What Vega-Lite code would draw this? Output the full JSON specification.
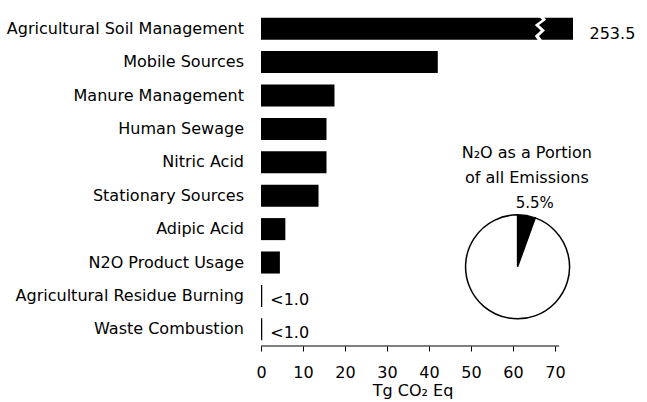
{
  "$schema": "https://vega.github.io/schema/vega-lite/v6.json",
  "width": 312,
  "height": 334,
  "autosize": {"type": "none"},
  "padding": {"left": 261, "top": 12, "right": 74, "bottom": 56},
  "background": "white",
  "config": {"view": {"stroke": null}, "font": "DejaVu Sans"},
  "datasets": {
    "bars": [
      {"source": "Agricultural Soil Management", "value": 253.5, "label": "253.5"},
      {"source": "Mobile Sources", "value": 42.1, "label": ""},
      {"source": "Manure Management", "value": 17.5, "label": ""},
      {"source": "Human Sewage", "value": 15.6, "label": ""},
      {"source": "Nitric Acid", "value": 15.6, "label": ""},
      {"source": "Stationary Sources", "value": 13.7, "label": ""},
      {"source": "Adipic Acid", "value": 5.8, "label": ""},
      {"source": "N2O Product Usage", "value": 4.5, "label": ""},
      {"source": "Agricultural Residue Burning", "value": 0.3, "label": "<1.0"},
      {"source": "Waste Combustion", "value": 0.3, "label": "<1.0"}
    ],
    "pie": [
      {"part": "N2O", "share": 5.5, "ord": 1, "label": "5.5%"},
      {"part": "Other gases", "share": 94.5, "ord": 2, "label": ""}
    ]
  },
  "layer": [
    {
      "data": {"name": "bars"},
      "layer": [
        {
          "mark": {"type": "bar", "color": "black"},
          "encoding": {
            "x": {
              "field": "value", "type": "quantitative",
              "scale": {"domain": [0, 74.3], "clamp": true, "nice": false},
              "axis": {
                "values": [0, 10, 20, 30, 40, 50, 60, 70],
                "domain": false, "grid": false, "labelFlush": false, "labelOverlap": false,
                "tickSize": 5, "tickColor": "black", "tickWidth": 1,
                "labelFont": "DejaVu Sans", "labelFontSize": 16, "labelColor": "black", "labelPadding": 13,
                "title": "Tg CO₂ Eq", "titleFont": "DejaVu Sans", "titleFontSize": 16,
                "titleFontWeight": "normal", "titleColor": "black", "titlePadding": 2, "titleX": 151.5
              }
            },
            "y": {
              "field": "source", "type": "nominal", "sort": null,
              "scale": {"paddingInner": 0.34, "paddingOuter": 0.17},
              "axis": {
                "title": null, "domain": false, "ticks": false,
                "labelFont": "DejaVu Sans", "labelFontSize": 16, "labelColor": "black",
                "labelPadding": 17.5, "labelLimit": 400
              }
            }
          }
        },
        {
          "transform": [{"filter": "datum.value > 74.3"}],
          "mark": {
            "type": "point",
            "shape": "M-0.1,-1.15 L0.25,-0.75 L-0.35,-0.3 L0.15,0.15 L-0.35,0.6 L0.05,1.15 L0.4,1.15 L0.0,0.6 L0.5,0.15 L0.0,-0.3 L0.6,-0.75 L0.25,-1.15 Z",
            "filled": true, "fill": "white", "strokeWidth": 0, "size": 576, "opacity": 1
          },
          "encoding": {
            "x": {"datum": 66.2, "type": "quantitative"},
            "y": {"field": "source", "type": "nominal", "sort": null}
          }
        },
        {
          "transform": [{"filter": "datum.value > 74.3"}],
          "mark": {"type": "text", "align": "left", "baseline": "middle", "dx": 16.5, "dy": 5, "fontSize": 16, "color": "black", "font": "DejaVu Sans"},
          "encoding": {
            "x": {"field": "value", "type": "quantitative"},
            "y": {"field": "source", "type": "nominal", "sort": null},
            "text": {"field": "label"}
          }
        },
        {
          "transform": [{"filter": "datum.value < 1"}],
          "mark": {"type": "text", "align": "left", "baseline": "middle", "dx": 8, "dy": 4, "fontSize": 16, "color": "black", "font": "DejaVu Sans"},
          "encoding": {
            "x": {"field": "value", "type": "quantitative"},
            "y": {"field": "source", "type": "nominal", "sort": null},
            "text": {"field": "label"}
          }
        }
      ]
    },
    {
      "data": {"name": "pie"},
      "layer": [
        {
          "mark": {"type": "arc", "outerRadius": 52, "stroke": "black", "strokeWidth": 1.5},
          "encoding": {
            "theta": {"field": "share", "type": "quantitative", "stack": true},
            "order": {"field": "ord", "type": "quantitative"},
            "color": {"field": "part", "type": "nominal", "scale": {"domain": ["N2O", "Other gases"], "range": ["black", "white"]}, "legend": null},
            "x": {"datum": 61.1, "type": "quantitative"},
            "y": {"datum": 23.7, "type": "quantitative", "scale": {"domain": [0, 100], "nice": false}, "axis": null}
          }
        },
        {
          "transform": [{"filter": "datum.ord == 1"}],
          "mark": {"type": "text", "fontSize": 15, "align": "center", "baseline": "middle", "color": "black", "font": "DejaVu Sans"},
          "encoding": {
            "text": {"field": "label"},
            "x": {"datum": 65.2, "type": "quantitative"},
            "y": {"datum": 42.7, "type": "quantitative", "axis": null}
          }
        },
        {
          "transform": [{"filter": "datum.ord == 1"}],
          "mark": {"type": "text", "text": ["N₂O as a Portion", "of all Emissions"], "lineHeight": 25, "fontSize": 16, "align": "center", "baseline": "middle", "color": "black", "font": "DejaVu Sans"},
          "encoding": {
            "x": {"datum": 63.3, "type": "quantitative"},
            "y": {"datum": 57.9, "type": "quantitative", "axis": null}
          }
        },
        {
          "transform": [{"filter": "datum.ord == 1"}],
          "mark": {"type": "rule", "color": "black", "strokeWidth": 1},
          "encoding": {
            "x": {"datum": 0, "type": "quantitative"},
            "x2": {"datum": 71},
            "y": {"datum": 0, "type": "quantitative", "axis": null}
          }
        }
      ]
    }
  ],
  "resolve": {"scale": {"y": "independent"}}
}
